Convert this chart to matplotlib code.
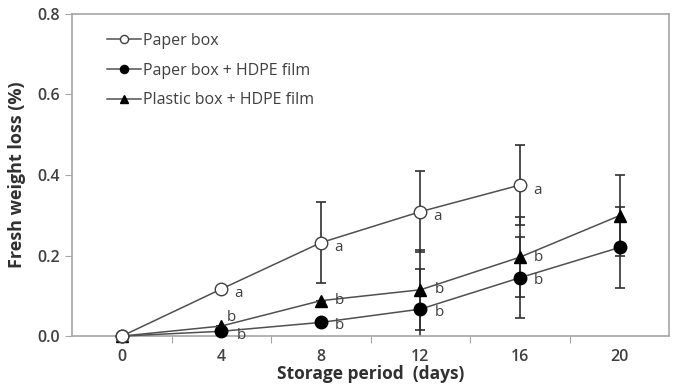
import matplotlib
matplotlib.use("Agg")
import matplotlib.pyplot as plt

plt.rcParams['font.family'] = ['Open Sans', 'DejaVu Sans']

days = [0, 4, 8, 12, 16, 20]

paper = [0.0, 0.117, 0.232, 0.309, 0.375]
paper_err = [0.0, 0.0, 0.10, 0.10, 0.10]
paper_letters = ['', 'a', 'a', 'a', 'a']

paper_hdpe = [0.0, 0.012, 0.034, 0.067, 0.145, 0.22]
paper_hdpe_err = [0.0, 0.0, 0.0, 0.10, 0.10, 0.10]
paper_hdpe_letters = ['', 'b', 'b', 'b', 'b', '']

plastic_hdpe = [0.0, 0.025, 0.088, 0.115, 0.196, 0.299]
plastic_hdpe_err = [0.0, 0.0, 0.0, 0.10, 0.10, 0.10]
plastic_hdpe_letters = ['', 'b', 'b', 'b', 'b', '']

line_col = '#505050'
text_col = '#404040'
spine_col = '#a6a6a6'

fig = plt.figure(figsize=(6.74, 3.85), dpi=100)
ax = fig.add_axes([0.107, 0.127, 0.886, 0.837])

series = [
    (paper, paper_err, 'o', 'white', 'Paper box'),
    (paper_hdpe, paper_hdpe_err, 'o', 'black', 'Paper box + HDPE film'),
    (plastic_hdpe, plastic_hdpe_err, '^', 'black', 'Plastic box + HDPE film'),
]

for vals, err, mk, fc, lab in series:
    x = days[:len(vals)]
    ax.errorbar(x, vals, yerr=err, fmt='none', ecolor='#303030',
                elinewidth=1.2, capsize=3.5, capthick=1.2, zorder=2)

for vals, err, mk, fc, lab in series:
    x = days[:len(vals)]
    ms = 9 if mk == 'o' else 8.5
    ax.plot(x, vals, color=line_col, lw=1.1, marker=mk, ms=ms,
            mfc=fc, mec='black' if fc == 'black' else '#404040', mew=1.0,
            label=lab, clip_on=False, zorder=3 if fc == 'black' else 4)

# significance letters (offsets in pixels)
fs_let = 11
for i, l in enumerate(paper_letters):
    if l:
        ax.annotate(l, (days[i], paper[i]), xytext=(13, -5),
                    textcoords='offset pixels', fontsize=fs_let, color=text_col,
                    va='center', ha='left')
for i, l in enumerate(plastic_hdpe_letters):
    if l:
        off = (5, 9) if i == 1 else (14, 0)
        ax.annotate(l, (days[i], plastic_hdpe[i]), xytext=off,
                    textcoords='offset pixels', fontsize=fs_let, color=text_col,
                    va='center', ha='left')
for i, l in enumerate(paper_hdpe_letters):
    if l:
        off = (15, -4) if i == 1 else (14, -3)
        ax.annotate(l, (days[i], paper_hdpe[i]), xytext=off,
                    textcoords='offset pixels', fontsize=fs_let, color=text_col,
                    va='center', ha='left')

ax.set_xlim(-2, 22)
ax.set_ylim(0, 0.8)

ax.set_xticks([2, 6, 10, 14, 18])
ax.set_xticklabels([])
ax.set_xticks(days, minor=True)
ax.set_xticklabels([str(d) for d in days], minor=True)
ax.tick_params(axis='x', which='major', direction='out', length=5,
               color=spine_col)
ax.tick_params(axis='x', which='minor', length=0, pad=9,
               labelsize=11.5, labelcolor=text_col)
ax.set_yticks([0.0, 0.2, 0.4, 0.6, 0.8])
ax.set_yticklabels(['0.0', '0.2', '0.4', '0.6', '0.8'])
ax.tick_params(axis='y', direction='out', length=5, color=spine_col,
               labelsize=11.5, labelcolor=text_col)
for t in ax.get_xticklabels(minor=True) + ax.get_yticklabels():
    t.set_fontweight('semibold')

for s in ax.spines.values():
    s.set_color(spine_col)
    s.set_linewidth(1.2)

ax.set_xlabel('Storage period  (days)', fontsize=12.5, fontweight='bold',
              color='#303030', labelpad=0)
ax.set_ylabel('Fresh weight loss (%)', fontsize=13, fontweight='bold',
              color='#303030', labelpad=8)

ax.legend(loc='upper left', bbox_to_anchor=(0.035, 0.985), frameon=False,
          fontsize=11.5, handlelength=2.1, handletextpad=0.15,
          labelspacing=0.85, labelcolor=text_col, markerscale=0.65)

plt.savefig('out.png', dpi=100)
